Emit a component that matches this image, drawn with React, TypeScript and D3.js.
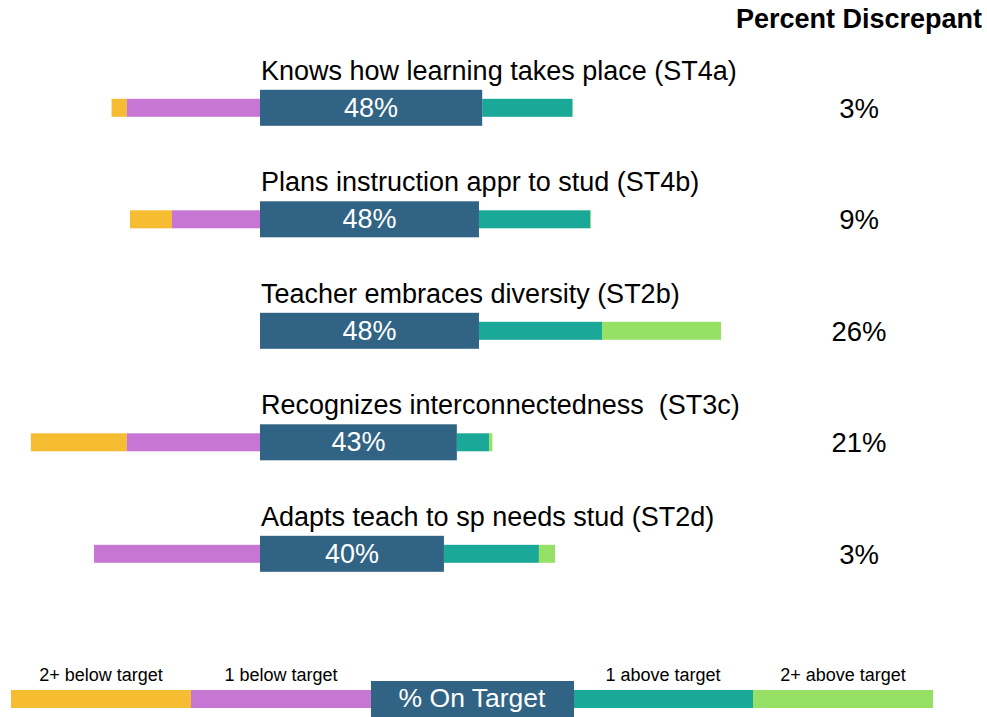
import React from 'react';
import * as d3 from 'd3';

// categories (top to bottom)
const standards = [
  'Knows how learning takes place (ST4a)',
  'Plans instruction appr to stud (ST4b)',
  'Teacher embraces diversity (ST2b)',
  'Recognizes interconnectedness  (ST3c)',
  'Adapts teach to sp needs stud (ST2d)',
];

// percentages per rating band
const twoBelow = [3.3, 9.1, 0, 20.8, 0];
const oneBelow = [28.9, 19.1, 0, 28.9, 36.0];
const onTarget = [48.2, 47.5, 47.5, 42.7, 39.9];
const oneAbove = [19.6, 24.1, 26.7, 7.0, 20.6];
const twoAbove = [0.1, 0.2, 25.8, 0.7, 3.5];
const discrepant = ['3%', '9%', '26%', '21%', '3%'];

const legendLabels = ['2+ below target', '1 below target', '% On Target', '1 above target', '2+ above target'];

const COLORS = {
  twoBelow: '#F6BD33',
  oneBelow: '#C776D3',
  onTarget: '#316384',
  oneAbove: '#1AA898',
  twoAbove: '#96E066',
};

const FONT = 'Arial, "Liberation Sans", Helvetica, sans-serif';

export default function App() {
  const width = 987;
  const height = 717;

  // x: percent -> pixels, 0 at the left edge of the on-target bar
  const x = d3.scaleLinear().domain([0, 100]).range([260, 721]);
  const y = d3.scalePoint<string>().domain(standards).range([107.8, 553.8]);

  const thin = 18;
  const thick = 36;

  // legend bands: 180px each, on-target box a bit wider
  const legendX = d3.scaleLinear().domain([0, 1]).range([11, 191]);

  return (
    <div style={{ position: 'absolute', left: 0, top: 0 }}>
      <svg width={width} height={height} style={{ display: 'block', fontFamily: FONT }}>
        <rect width={width} height={height} fill="#ffffff" />

        <text x={982} y={28} textAnchor="end" fontSize={27} fontWeight="bold" fill="#000">
          Percent Discrepant
        </text>

        {standards.map((s, i) => {
          const cy = y(s) as number;
          const yb = twoBelow[i];
          const ob = oneBelow[i];
          const on = onTarget[i];
          const oa = oneAbove[i];
          const ta = twoAbove[i];
          return (
            <g key={s}>
              <text x={261} y={cy - 28} fontSize={27} fill="#000" style={{ whiteSpace: 'pre' }}>{s}</text>
              {/* below target segments, stacked leftwards */}
              <rect x={x(-ob - yb)} y={cy - thin / 2} width={x(yb) - x(0)} height={thin} fill={COLORS.twoBelow} />
              <rect x={x(-ob)} y={cy - thin / 2} width={x(ob) - x(0)} height={thin} fill={COLORS.oneBelow} />
              {/* above target segments */}
              <rect x={x(on)} y={cy - thin / 2} width={x(oa) - x(0)} height={thin} fill={COLORS.oneAbove} />
              <rect x={x(on + oa)} y={cy - thin / 2} width={x(ta) - x(0)} height={thin} fill={COLORS.twoAbove} />
              {/* on target */}
              <rect x={x(0)} y={cy - thick / 2} width={x(on) - x(0)} height={thick} fill={COLORS.onTarget} />
              <text x={(x(0) + x(on)) / 2} y={cy + 9} textAnchor="middle" fontSize={27} fill="#ffffff">
                {Math.round(on)}%
              </text>
              <text x={859} y={cy + 10} textAnchor="middle" fontSize={27.5} fill="#000">{discrepant[i]}</text>
            </g>
          );
        })}

        {/* legend */}
        <g>
          <rect x={legendX(0)} y={690} width={180} height={18} fill={COLORS.twoBelow} />
          <rect x={legendX(1)} y={690} width={180} height={18} fill={COLORS.oneBelow} />
          <rect x={574} y={690} width={179} height={18} fill={COLORS.oneAbove} />
          <rect x={753} y={690} width={180} height={18} fill={COLORS.twoAbove} />
          <rect x={371} y={681} width={203} height={36} fill={COLORS.onTarget} />
          <text x={101} y={681} textAnchor="middle" fontSize={18} fill="#000">{legendLabels[0]}</text>
          <text x={281} y={681} textAnchor="middle" fontSize={18} fill="#000">{legendLabels[1]}</text>
          <text x={472} y={707} textAnchor="middle" fontSize={26.5} fill="#ffffff">{legendLabels[2]}</text>
          <text x={663} y={681} textAnchor="middle" fontSize={18} fill="#000">{legendLabels[3]}</text>
          <text x={843} y={681} textAnchor="middle" fontSize={18} fill="#000">{legendLabels[4]}</text>
        </g>
      </svg>
    </div>
  );
}
